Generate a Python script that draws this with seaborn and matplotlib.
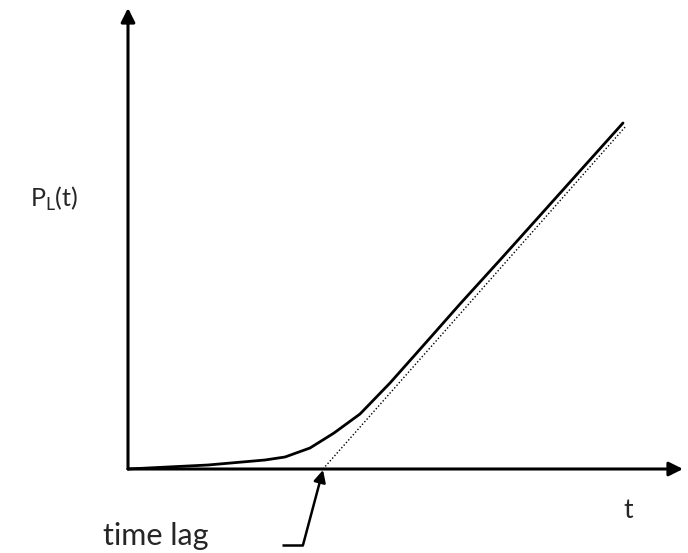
import matplotlib
matplotlib.use("Agg")
import matplotlib.pyplot as plt
import seaborn as sns
import pandas as pd

sns.set_theme(style="white")
plt.rcParams['font.family'] = ['Lato', 'DejaVu Sans']
plt.rcParams['mathtext.fontset'] = 'custom'
plt.rcParams['mathtext.rm'] = 'Lato'

# Data (arbitrary units)
t_vals = [0, 8, 13.7, 15.7, 18.2, 20.6, 23.2, 26.2, 30.2, 33.2, 37.2, 39.0, 49.5]
p_vals = [0, 0.4, 0.9, 1.2, 2.1, 3.6, 5.5, 8.6, 13.1, 16.5, 20.9, 22.9, 34.6]
tangent_t = [19.5, 49.8]
tangent_p = [0, 34.3]
time_lag = 19.5

x_label = "t"
y_label = r"P$_{\mathregular{L}}$(t)"
lag_label = "time lag"

curve = pd.DataFrame({"t": t_vals, "P": p_vals})
tangent = pd.DataFrame({"t": tangent_t, "P": tangent_p})

fig = plt.figure(figsize=(6.88, 5.53), dpi=100)
ax = fig.add_axes([0, 0, 1, 1])
ax.set_xlim(-12.8, 56.0)
ax.set_ylim(-8.4, 46.9)
ax.axis("off")

sns.lineplot(data=tangent, x="t", y="P", ax=ax, color="black", lw=1.0,
             linestyle=(0, (1, 1.5)), sort=False)
sns.lineplot(data=curve, x="t", y="P", ax=ax, color="black", lw=2.0, sort=False)

# Axes arrows
arrow_kw = dict(arrowstyle="-|>,head_length=0.6,head_width=0.3", lw=2.2,
                color="black", mutation_scale=14, shrinkA=0, shrinkB=0)
ax.annotate("", xy=(55.5, 0), xytext=(0, 0), arrowprops=arrow_kw)
ax.annotate("", xy=(0, 46.1), xytext=(0, 0), arrowprops=arrow_kw)

# Labels
ax.text(50.0, -4.1, x_label, fontsize=19, ha="center", va="center")
ax.text(-9.8, 26.2, y_label, fontsize=18, ha="left", va="baseline")
ax.text(-2.5, -7.6, lag_label, fontsize=22, ha="left", va="baseline")

# Leader to time lag
ax.plot([15.4, 17.5], [-7.6, -7.6], color="black", lw=1.8, solid_capstyle="butt")
ax.annotate("", xy=(time_lag, -0.1), xytext=(17.5, -7.6),
            arrowprops=dict(arrowstyle="-|>,head_length=0.6,head_width=0.3", lw=1.8,
                            color="black", mutation_scale=12, shrinkA=0, shrinkB=0))

fig.savefig("out.png", dpi=100)
